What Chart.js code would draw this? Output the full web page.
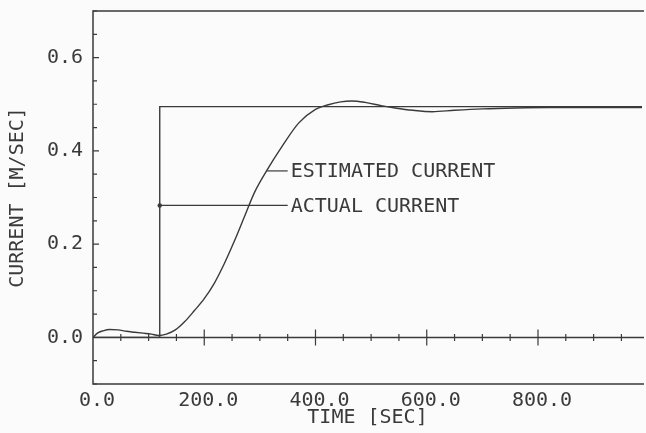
<!DOCTYPE html>
<html>
<head>
<meta charset="utf-8">
<script src="https://cdn.jsdelivr.net/npm/chart.js@4/dist/chart.umd.min.js"></script>
<style>
  html, body { margin: 0; padding: 0; background: #fbfbfb; }
  #wrap { width: 646px; height: 433px; }
</style>
</head>
<body>
<div id="wrap"><canvas id="c" width="646" height="433"></canvas></div>
<script>
// Estimated current from the observer (time in seconds, current in m/s)
const estTime = [0, 8, 18, 30, 45, 60, 75, 90, 105, 118, 132, 148, 165, 182, 200, 218, 236, 254, 272, 290,
                 312, 339, 370, 400, 423, 445, 465, 489, 518, 543, 575, 610, 650, 700, 760, 820, 880, 940, 987];
const estCurrent = [0, 0.009, 0.014, 0.017, 0.016, 0.013, 0.011, 0.009, 0.007, 0.004, 0.007, 0.016, 0.034, 0.057,
                    0.083, 0.116, 0.158, 0.206, 0.258, 0.310, 0.357, 0.408, 0.460, 0.489, 0.499, 0.505, 0.507,
                    0.504, 0.497, 0.492, 0.487, 0.484, 0.487, 0.490, 0.492, 0.493, 0.493, 0.493, 0.493];

// Actual current: a step applied at t = 120 s
const actTime = [0, 120, 120, 987];
const actCurrent = [0, 0, 0.495, 0.495];

// Axis ticks
const xTickValues = [0, 200, 400, 600, 800];
const yTickValues = [0, 0.2, 0.4, 0.6];

// Curve callouts: leader start on the curve, leader end, label
const callouts = [
  { text: 'ESTIMATED CURRENT', from: [312, 0.357], to: [350, 0.357] },
  { text: 'ACTUAL CURRENT',    from: [120, 0.283], to: [350, 0.283] }
];

const INK = '#3a3a3a';
const FONT = 'DejaVu Sans Mono';

const toPoints = (xs, ys) => xs.map((t, i) => ({ x: t, y: ys[i] }));

// Frame, zero axis with cross ticks, inward y ticks and callout text
const plotFrame = {
  id: 'plotFrame',
  beforeDatasetsDraw(chart) {
    const { ctx, chartArea: a, scales: { x, y } } = chart;
    ctx.save();
    ctx.strokeStyle = INK;
    ctx.lineWidth = 1.5;
    ctx.beginPath();
    ctx.moveTo(a.right + 2, a.top);
    ctx.lineTo(a.left, a.top);
    ctx.lineTo(a.left, a.bottom);
    ctx.lineTo(a.right + 2, a.bottom);
    ctx.stroke();

    const y0 = y.getPixelForValue(0);
    ctx.beginPath();
    ctx.moveTo(a.left, y0);
    ctx.lineTo(a.right + 2, y0);
    ctx.stroke();

    ctx.lineWidth = 1.2;
    ctx.beginPath();
    for (let k = 1; k * 50 <= x.max; k++) {
      const px = x.getPixelForValue(k * 50);
      const h = k % 4 === 0 ? 8 : 3.5;
      ctx.moveTo(px, y0 - h);
      ctx.lineTo(px, y0 + h);
    }
    for (let k = -2; k <= 14; k++) {
      if (k === 0) continue;
      const py = y.getPixelForValue(k * 0.05);
      const w = k % 4 === 0 ? 6 : 4;
      ctx.moveTo(a.left, py);
      ctx.lineTo(a.left + w, py);
    }
    ctx.stroke();
    ctx.restore();
  },
  afterDatasetsDraw(chart) {
    const { ctx, scales: { x, y } } = chart;
    ctx.save();
    ctx.fillStyle = INK;
    ctx.font = '20px "' + FONT + '"';
    ctx.textAlign = 'left';
    ctx.textBaseline = 'middle';
    callouts.forEach(c => {
      ctx.fillText(c.text, x.getPixelForValue(c.to[0]) + 3, y.getPixelForValue(c.to[1]) + 1);
    });
    ctx.restore();
  }
};

const lineStyle = {
  borderColor: INK,
  borderWidth: 1.4,
  pointRadius: 0,
  showLine: true,
  fill: false
};

const fixPadding = s => { s.paddingTop = 0; s.paddingBottom = 0; s.paddingLeft = 0; s.paddingRight = 0; };

new Chart(document.getElementById('c'), {
  type: 'scatter',
  data: {
    datasets: [
      Object.assign({ label: 'ESTIMATED CURRENT', data: toPoints(estTime, estCurrent),
                      cubicInterpolationMode: 'monotone' }, lineStyle),
      Object.assign({ label: 'ACTUAL CURRENT', data: toPoints(actTime, actCurrent), tension: 0 }, lineStyle),
      ...callouts.map((c, i) => Object.assign({}, lineStyle, {
        label: c.text + ' leader',
        data: [{ x: c.from[0], y: c.from[1] }, { x: c.to[0], y: c.to[1] }],
        borderWidth: 1.2,
        tension: 0,
        pointRadius: [i === 1 ? 2.2 : 0, 0],
        pointBackgroundColor: INK,
        pointBorderWidth: 0
      }))
    ]
  },
  options: {
    responsive: false,
    animation: false,
    devicePixelRatio: 1,
    layout: { padding: { left: 0, top: 11, right: 0, bottom: 0 } },
    plugins: { legend: { display: false }, tooltip: { enabled: false } },
    scales: {
      x: {
        type: 'linear',
        min: 0,
        max: 987,
        afterFit: s => { s.height = 49; fixPadding(s); },
        afterBuildTicks: s => { s.ticks = xTickValues.map(v => ({ value: v })); },
        grid: { display: false, drawTicks: false },
        border: { display: false },
        ticks: {
          color: INK,
          font: { family: FONT, size: 20 },
          padding: 5,
          labelOffset: 4,
          maxRotation: 0,
          callback: v => v.toFixed(1)
        },
        title: {
          display: true,
          text: 'TIME [SEC]',
          color: INK,
          font: { family: FONT, size: 20 },
          padding: { top: 0, bottom: 3 }
        }
      },
      y: {
        type: 'linear',
        min: -0.1,
        max: 0.7,
        afterFit: s => { s.width = 93; fixPadding(s); },
        afterBuildTicks: s => { s.ticks = yTickValues.map(v => ({ value: v })); },
        grid: { display: false, drawTicks: false },
        border: { display: false },
        ticks: {
          color: INK,
          font: { family: FONT, size: 20 },
          padding: 10,
          callback: v => v.toFixed(1)
        },
        title: {
          display: true,
          text: 'CURRENT [M/SEC]',
          color: INK,
          font: { family: FONT, size: 20 },
          padding: { top: 6, bottom: 0 }
        }
      }
    }
  },
  plugins: [plotFrame]
});
</script>
</body>
</html>
